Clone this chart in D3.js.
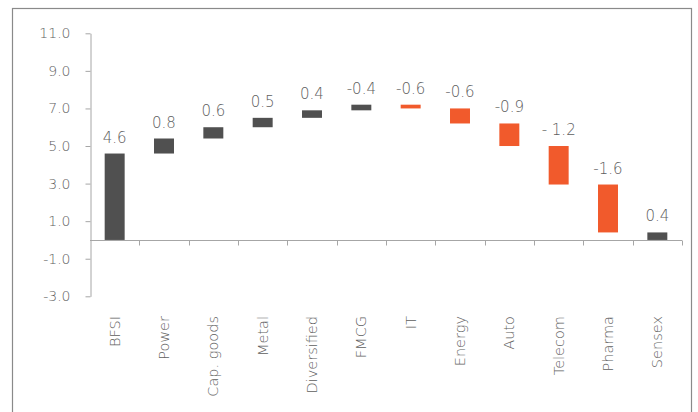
<!DOCTYPE html>
<html>
<head>
<meta charset="utf-8">
<script src="https://cdn.jsdelivr.net/npm/d3@7/dist/d3.min.js"></script>
<style>
  html, body { margin: 0; padding: 0; background: #fff; }
  svg { display: block; }
  text { font-family: "DejaVu Sans", Arial, sans-serif; font-weight: 200; fill: #5e5e5e; }
</style>
</head>
<body>
<svg id="chart" width="698" height="412"></svg>
<script>
// Sector contributions to the Sensex move
const sectors = ["BFSI", "Power", "Cap. goods", "Metal", "Diversified", "FMCG",
                 "IT", "Energy", "Auto", "Telecom", "Pharma", "Sensex"];
// Values printed above each step
const changes = [4.6, 0.8, 0.6, 0.5, 0.4, -0.4, -0.6, -0.6, -0.9, -1.2, -1.6, 0.4];
const changeText = ["4.6", "0.8", "0.6", "0.5", "0.4", "-0.4", "-0.6", "-0.6",
                    "-0.9", "- 1.2", "-1.6", "0.4"];
// Running level where each step starts and ends
const stepFrom = [0, 4.6, 5.4, 6.0, 6.5, 6.9, 7.2, 7.0, 6.2, 5.0, 2.95, 0];
const stepTo   = [4.6, 5.4, 6.0, 6.5, 6.9, 7.2, 7.0, 6.2, 5.0, 2.95, 0.4, 0.4];
const yTicks = [-3, -1, 1, 3, 5, 7, 9, 11];

const svg = d3.select("#chart");

// outer frame
svg.append("rect")
  .attr("x", 12.5).attr("y", 8.5)
  .attr("width", 679).attr("height", 420)
  .attr("fill", "none").attr("stroke", "#8a8a8a").attr("stroke-width", 1.2);

const x = d3.scaleBand().domain(sectors).range([90, 682]).padding(0);
const y = d3.scaleLinear().domain([-3, 11]).range([296.3, 33.3]);

const axisColor = "#a6a6a6";
// one decimal, plain hyphen for negatives
const fmt = v => v.toFixed(1);

// y axis
const yAxis = svg.append("g")
  .attr("transform", "translate(90.5,0)")
  .call(d3.axisLeft(y).tickValues(yTicks).tickFormat(fmt)
          .tickSize(5).tickPadding(15).tickSizeOuter(0));
yAxis.select(".domain").attr("stroke", axisColor);
yAxis.selectAll(".tick line").attr("stroke", axisColor);
yAxis.selectAll(".tick text")
  .attr("font-size", 14).attr("fill", "#5e5e5e")
  .style("font-family", "'DejaVu Sans', Arial, sans-serif")
  .style("font-weight", 200);

// x axis along zero with ticks at category boundaries
const y0 = Math.round(y(0)) + 0.5;
svg.append("line")
  .attr("x1", 90).attr("x2", 682).attr("y1", y0).attr("y2", y0)
  .attr("stroke", axisColor);
svg.append("g").selectAll("line")
  .data(sectors)
  .join("line")
  .attr("x1", d => Math.round(x(d) + x.bandwidth()) + 0.5)
  .attr("x2", d => Math.round(x(d) + x.bandwidth()) + 0.5)
  .attr("y1", y0).attr("y2", y0 + 5)
  .attr("stroke", axisColor);

// steps
const barW = x.bandwidth() * 0.405;
svg.append("g").selectAll("rect")
  .data(sectors)
  .join("rect")
  .attr("x", d => x(d) + (x.bandwidth() - barW) / 2)
  .attr("y", (d, i) => y(Math.max(stepFrom[i], stepTo[i])))
  .attr("width", barW)
  .attr("height", (d, i) => Math.abs(y(stepFrom[i]) - y(stepTo[i])))
  .attr("fill", (d, i) => stepTo[i] >= stepFrom[i] ? "#505050" : "#f15a2c");

// value labels
svg.append("g").selectAll("text")
  .data(sectors)
  .join("text")
  .attr("x", d => x(d) + x.bandwidth() / 2)
  .attr("y", (d, i) => y(Math.max(stepFrom[i], stepTo[i])) - 11)
  .attr("text-anchor", "middle")
  .attr("font-size", 15)
  .text((d, i) => changeText[i]);

// category labels
svg.append("g").selectAll("text")
  .data(sectors)
  .join("text")
  .attr("transform", d => `translate(${x(d) + x.bandwidth() / 2},316) rotate(-90)`)
  .attr("dy", "0.35em")
  .attr("text-anchor", "end")
  .attr("font-size", 14.5)
  .text(d => d);
</script>
</body>
</html>
